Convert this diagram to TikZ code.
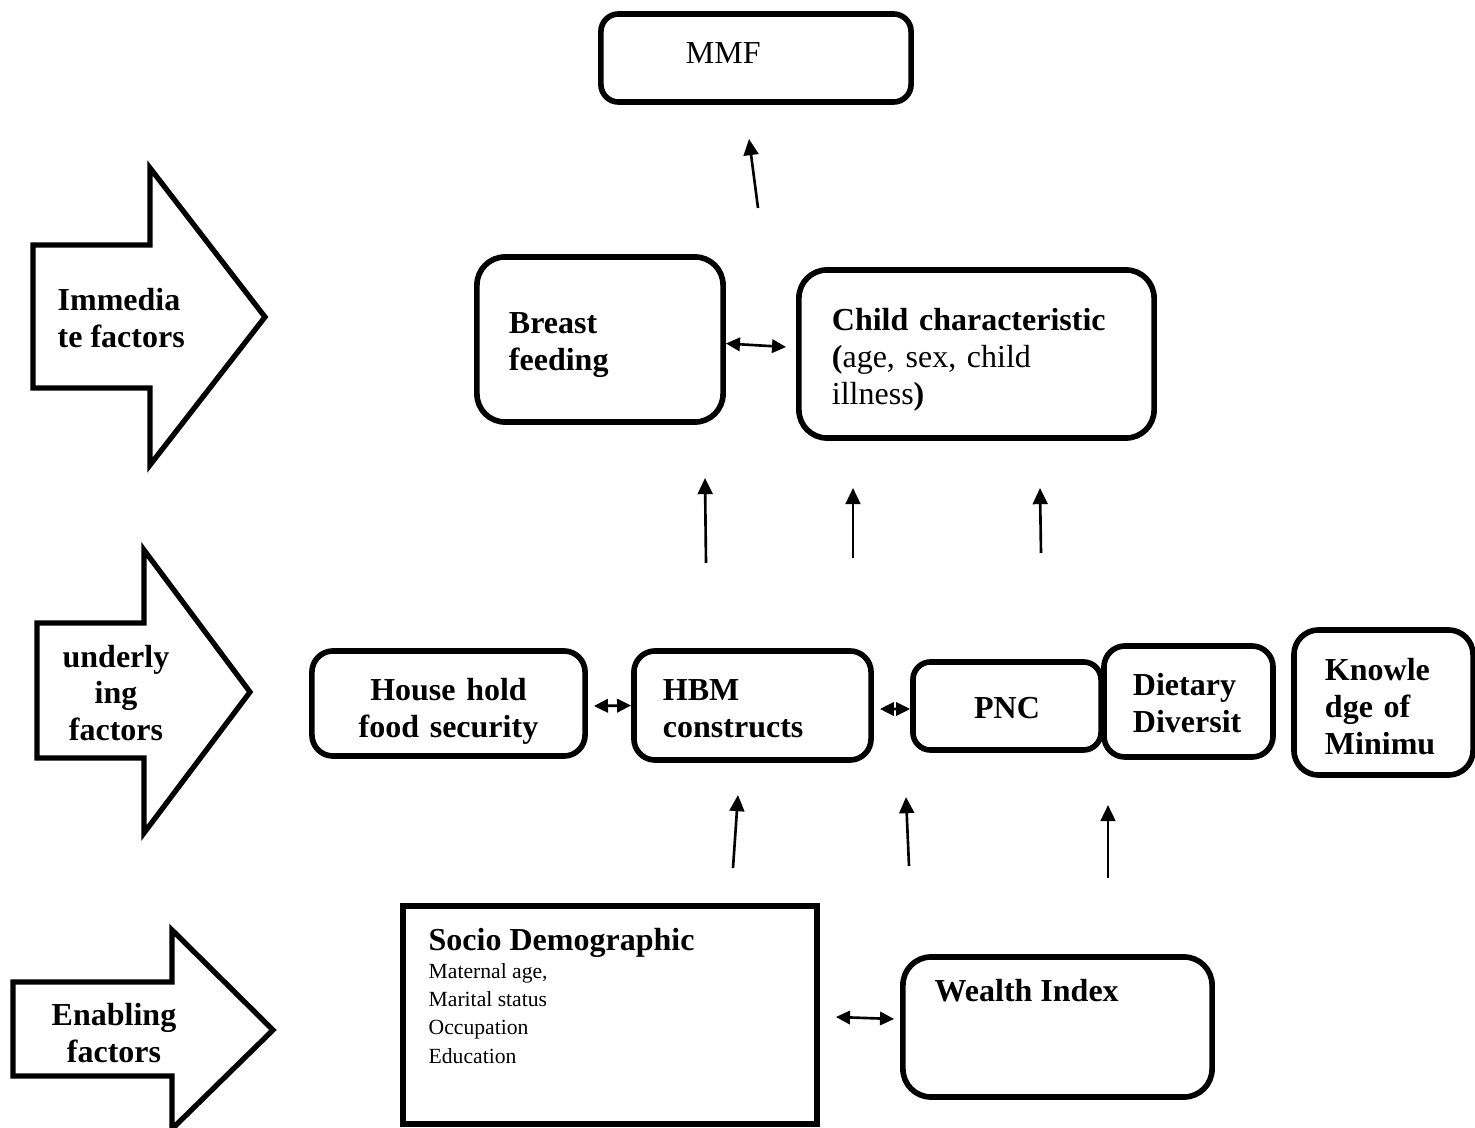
\documentclass[tikz,border=0pt]{standalone}
\usepackage{fontspec}
\setmainfont{Liberation Serif}
\usetikzlibrary{arrows.meta,positioning}
\hyphenpenalty=10000
\exhyphenpenalty=10000
\newcommand{\bigtxt}{\fontsize{9.1}{10.5}\selectfont}
\newcommand{\smalltxt}{\fontsize{6.15}{7.97}\selectfont}

\begin{document}
\begin{tikzpicture}[x=0.01cm,y=-0.01cm,
  box/.style={draw,line width=1.6pt,rounded corners=8pt,align=left,inner ysep=0pt,font=\bigtxt\bfseries},
  drop/.style={execute at begin node={\rule{0pt}{#1}}},
  fat/.style={draw,line width=1.5pt,line join=miter},
  tag/.style={inner sep=0pt,font=\bigtxt\bfseries},
  link/.style={line width=0.75pt,-{Triangle[length=4.6pt,width=4.2pt]}},
  both/.style={line width=0.75pt,{Triangle[length=4pt,width=3.8pt]}-{Triangle[length=4pt,width=3.8pt]}}]
\useasboundingbox (0,0) rectangle (1475,1128);

\draw[fat] (33,245) -- (150,245) -- (150,168) -- (265,317) -- (150,465) -- (150,388) -- (33,388) -- cycle;
\draw[fat] (37,623) -- (144,623) -- (144,550) -- (250,692) -- (144,833) -- (144,758) -- (37,758) -- cycle;
\draw[fat] (13,982) -- (172,982) -- (172,930) -- (273,1030) -- (172,1129) -- (172,1076) -- (13,1076) -- cycle;
\node[tag,anchor=west,align=left] (imm) at (57,318) {Immedia\\te factors};
\node[tag,align=center] (und) at (116,693) {underly\\ing\\factors};
\node[tag,align=center] (ena) at (114,1033) {Enabling\\factors};

\node[box,font=\bigtxt,rounded corners=5pt,minimum width=3.1cm,minimum height=0.88cm,text width=1.4cm,inner xsep=0.85cm] (mmf) at (756,58) {\raisebox{0.09cm}{MMF}};
\node[box,drop=9.05pt,minimum width=2.46cm,minimum height=1.65cm,text width=1.82cm,inner xsep=0.32cm] (bf) at (600,339.5) {Breast\\feeding};
\node[box,drop=9.6pt,minimum width=3.55cm,minimum height=1.68cm,text width=2.89cm,inner xsep=0.33cm] (cc) at (976.5,354) {Child characteristic\\\mdseries\textbf{(}age, sex, child\\illness\textbf{)}};

\node[box,drop=10.7pt,align=center,rounded corners=6pt,minimum width=2.73cm,minimum height=1.05cm,text width=2.5cm,inner xsep=0.1cm] (hh) at (448.5,703.5) {House hold\\food security};
\node[box,drop=7.9pt,rounded corners=6pt,minimum width=2.37cm,minimum height=1.09cm,text width=1.79cm,inner xsep=0.29cm] (hbm) at (752.5,705.5) {HBM\\constructs};
\node[box,drop=7.4pt,align=center,rounded corners=5pt,minimum width=1.88cm,minimum height=0.88cm,text width=1.6cm,inner xsep=0.14cm] (pnc) at (1007,706) {PNC};
\node[box,drop=7.4pt,rounded corners=6pt,minimum width=1.69cm,minimum height=1.11cm,text width=1.11cm,inner xsep=0.29cm] (dd) at (1188.5,701.5) {Dietary\\Diversit};
\node[box,drop=8.5pt,rounded corners=7pt,minimum width=1.79cm,minimum height=1.45cm,text width=1.17cm,inner xsep=0.31cm] (km) at (1383.5,702.5) {Knowle\\dge of\\Minimu};

\node[box,rounded corners=0pt,minimum width=4.14cm,minimum height=2.18cm] (so) at (610,1015) {};
\node[anchor=north west,inner sep=0pt,align=left,font=\smalltxt] (soText) at (428,928) {{\bigtxt\bfseries Socio Demographic}\\Maternal age,\\Marital status\\Occupation\\Education};
\node[box,rounded corners=8pt,minimum width=3.09cm,minimum height=1.4cm] (wi) at (1057.5,1027) {};
\node[tag,anchor=north west] (wiText) at (934,979) {Wealth Index};

\draw[both] ([yshift=-0.04cm]bf.east) -- ([xshift=-0.1cm,yshift=0.07cm]cc.west);
\draw[both] ([xshift=0.06cm,yshift=-0.025cm]hh.east) -- (hbm.west);
\draw[both] ([xshift=0.06cm,yshift=-0.035cm]hbm.east) -- ([yshift=-0.03cm]pnc.west);
\draw[both] ([xshift=0.16cm,yshift=-0.02cm]so.east) -- ([xshift=-0.06cm,yshift=0.08cm]wi.west);

\foreach \i/\x/\y/\u/\v in {1/758/208/749/139, 2/706/563/705/478, 3/853/558/853/488, 4/1041/553/1040/488, 5/733/868/738/795, 6/909/866/906/797, 7/1108/878/1108/805}
{
  \coordinate (s\i) at (\x,\y);
  \coordinate (t\i) at (\u,\v);
  \draw[link] (s\i) -- (t\i);
}
\end{tikzpicture}
\end{document}
